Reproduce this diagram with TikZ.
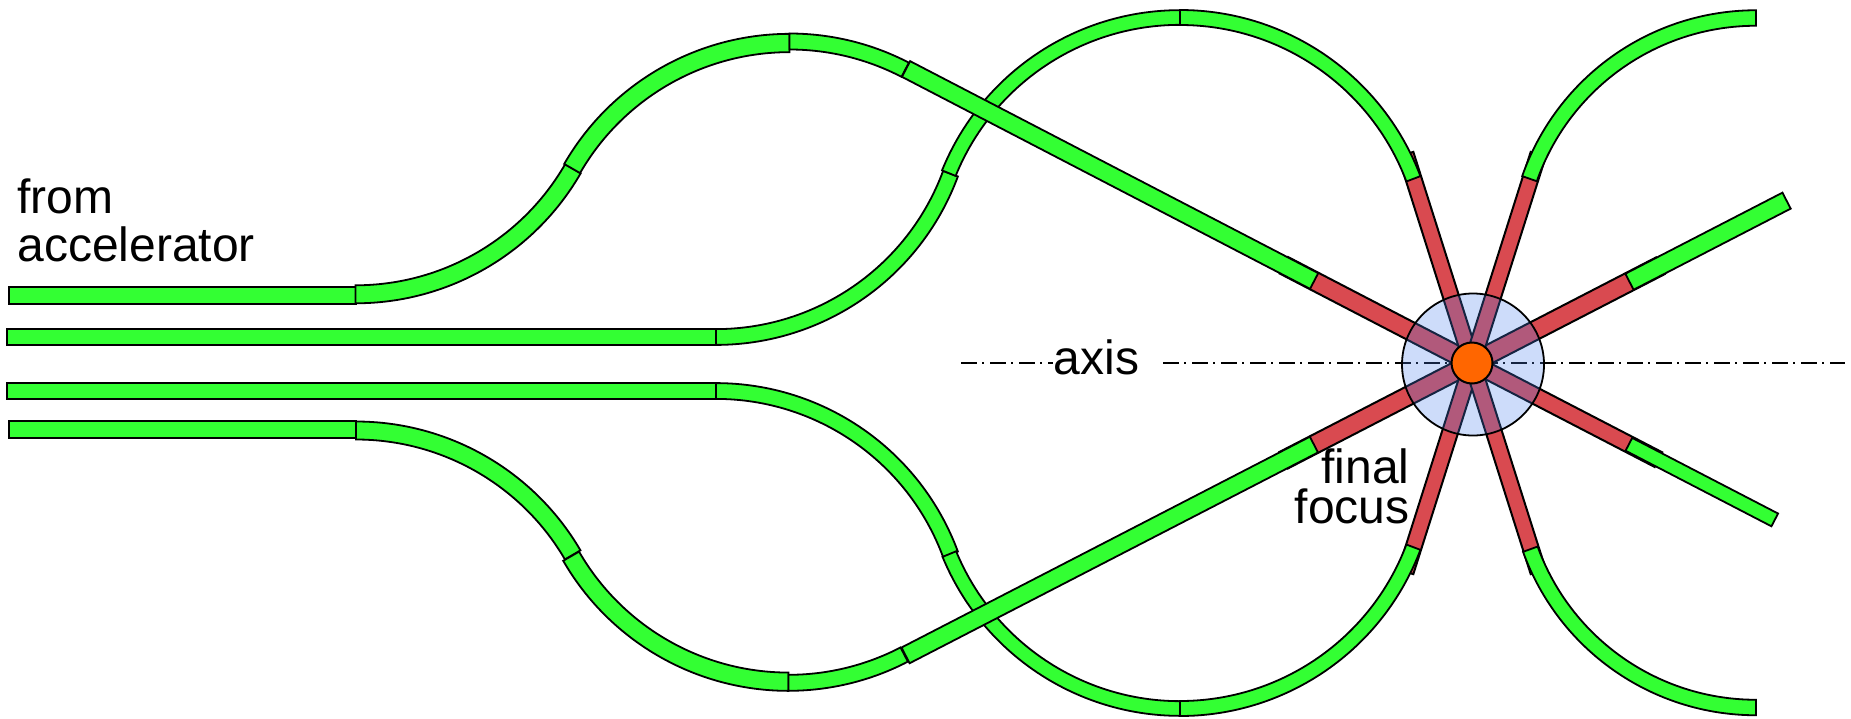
\documentclass[tikz,border=0pt]{standalone}
\usepackage{fontspec}
\setmainfont{Liberation Sans}
\usepackage{tikz}
\usepackage{xcolor}

\definecolor{beamgreen}{RGB}{51,255,51}
\definecolor{beamred}{RGB}{217,74,80}
\definecolor{chamberblue}{RGB}{76,130,237}
\definecolor{targetorange}{RGB}{255,102,0}

\tikzset{
	greenbeam/.style={draw=black, line width=0.9pt, fill=beamgreen},
	redbeam/.style={draw=black, line width=1pt, fill=beamred},
	biglabel/.style={inner sep=0pt, font=\fontsize{24}{24}\selectfont}
}

% curved piece: cx, cy, radius, start angle, end angle, width
\newcommand{\beamarc}[6]{
	\draw[greenbeam] ([shift={(#1,#2)}]#4:#3+#6/2) arc[start angle=#4, end angle=#5, radius={#3+#6/2}]
		-- ([shift={(#1,#2)}]#5:#3-#6/2) arc[start angle=#5, end angle=#4, radius={#3-#6/2}] -- cycle;
}
% straight piece along a ray from the focus: style, angle, r1, r2, width
\newcommand{\beamray}[5]{
	\draw[#1, shift={(fc)}, rotate=#2] (#3,-#5/2) rectangle (#4,#5/2);
}

\begin{document}
\begin{tikzpicture}[x=0.5pt, y=-0.5pt]
				\useasboundingbox (0,0) rectangle (1851,718);
				\coordinate (fc) at (1472,363);
				
				% Axis
				\node[biglabel, anchor=base] (axislabel) at (1096.5,374) {axis};
				\coordinate (axisleft) at (961,363);
				\coordinate (axisgap) at (1163,363);
				\coordinate (axisright) at (1845,363);
				\tikzset{axisline/.style={line width=0.8pt, dash pattern=on 8pt off 2.5pt on 1pt off 3pt}}
				\draw[axisline] (axisleft) -- (axislabel.west |- axisleft);
				\draw[axisline] (axisgap) -- (axisright);
				
				% Final focus magnets
				\beamray{redbeam}{152.55}{15}{212}{18.5}
				\beamray{redbeam}{207.3}{15}{212}{18.5}
				\beamray{redbeam}{27.3}{15}{212}{18.8}
				\beamray{redbeam}{-27.4}{15}{210}{16.5}
				\beamray{redbeam}{107.6}{15}{219}{15.8}
				\beamray{redbeam}{72.4}{15}{219}{15.8}
				\beamray{redbeam}{252.4}{15}{219}{15.8}
				\beamray{redbeam}{287.6}{15}{219}{15.8}
				
				% Upper outer line
				\draw[greenbeam] (9,286.7) rectangle (355.8,304.3);
				\beamarc{355.5}{43.3}{251}{90}{30}{18}
				\beamarc{789.5}{294}{251}{210}{270}{18.3}
				\beamarc{789.5}{292.5}{251}{270}{297.45}{16}
				
				% Upper inner line
				\draw[greenbeam] (7.3,328.7) rectangle (716,345.3);
				\beamarc{716}{87}{250}{90}{20.3}{15.8}
				\beamarc{1180}{267}{249.5}{202.1}{270}{14.7}
				\beamarc{1180}{267}{249.5}{270}{339.3}{15}
				
				% Lower inner line
				\draw[greenbeam] (7.3,382.7) rectangle (716,399);
				\beamarc{716}{641}{250}{270}{339.7}{15.8}
				\beamarc{1180}{459}{249.5}{157.6}{90}{14.7}
				\beamarc{1180}{459}{249.5}{90}{20.7}{15}
				
				% Lower outer line
				\draw[greenbeam] (9,420.7) rectangle (356,438);
				\beamarc{356}{681.5}{251}{270}{329.7}{18}
				\beamarc{788.5}{430.7}{251}{150}{90}{18.3}
				\beamarc{788.5}{431.8}{251}{90}{62.55}{16}
				
				% Right side arcs
				\beamarc{1756}{258}{240}{199.3}{270}{15.5}
				\beamarc{1756}{467.5}{240}{160.1}{90}{15.5}
				
				% Straight lines
				\beamray{greenbeam}{152.55}{177.9}{637.8}{17.7}
				\beamray{greenbeam}{207.3}{177.9}{637.5}{17.7}
				\beamray{greenbeam}{27.3}{177.2}{354}{18}
				\beamray{greenbeam}{-27.4}{176.7}{341}{14.4}
				
				% Chamber and target
				\draw[line width=0.9pt, fill=chamberblue, fill opacity=0.28] (1473,364.5) circle[radius=71];
				\draw[line width=1pt, fill=targetorange] (fc) circle[radius=20.5];
				
				% Labels
				\node[biglabel, align=left, anchor=north west] (fromlabel) at (17,178.5) {from\\accelerator};
				\node[biglabel, align=right, anchor=north east, font=\fontsize{24}{20}\selectfont] (focuslabel) at (1410,448) {final\\focus};
			\end{tikzpicture}
\end{document}
